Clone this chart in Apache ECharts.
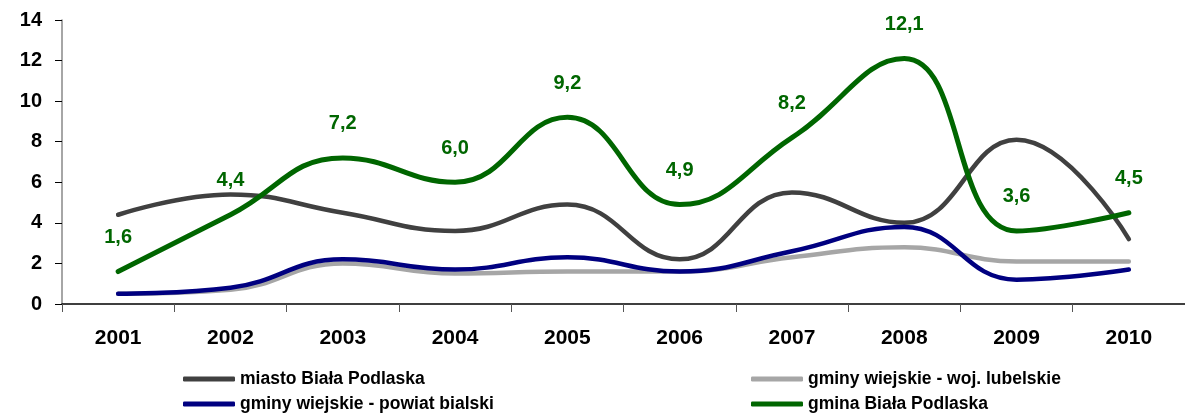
<!DOCTYPE html>
<html>
<head>
    <meta charset="utf-8">
    <title>Biała Podlaska</title>
    <script src="https://cdn.jsdelivr.net/npm/echarts@6/dist/echarts.min.js"></script>
</head>
<body style="margin:0;background:#fff">
    <div id="main" style="width:1185px;height:414px;"></div>
    <script>
        // dane
        var years = ['2001', '2002', '2003', '2004', '2005', '2006', '2007', '2008', '2009', '2010'];
        var miasto = [4.4, 5.4, 4.5, 3.6, 4.9, 2.2, 5.5, 4.0, 8.1, 3.2];
        var wojLubelskie = [0.5, 0.7, 2.0, 1.5, 1.6, 1.6, 2.3, 2.8, 2.1, 2.1];
        var powiatBialski = [0.5, 0.8, 2.2, 1.7, 2.3, 1.6, 2.6, 3.8, 1.2, 1.7];
        var gmina = [1.6, 4.4, 7.2, 6.0, 9.2, 4.9, 8.2, 12.1, 3.6, 4.5];
        var yTicks = [0, 2, 4, 6, 8, 10, 12, 14];

        var font = 'Liberation Sans';
        var myChart = echarts.init(document.getElementById('main'));

        function line(name, data, color) {
            return {
                name: name,
                type: 'line',
                smooth: 0.45,
                data: data,
                symbol: 'circle',
                symbolSize: 0,
                showSymbol: true,
                lineStyle: { color: color, width: 4.5, cap: 'round' },
                itemStyle: { color: color }
            };
        }

        var gminaSeries = line('gmina Biała Podlaska', gmina, '#006600');
        gminaSeries.lineStyle.width = 5;
        gminaSeries.label = {
            show: true,
            position: 'top',
            distance: 24,
            color: '#006600',
            fontFamily: font,
            fontWeight: 'bold',
            fontSize: 20,
            formatter: function (p) {
                return p.value.toFixed(1).replace('.', ',');
            }
        };

        var legendText = {
            fontFamily: font, fontWeight: 'bold', fontSize: 17.5, lineHeight: 18, color: '#000'
        };

        var option = {
            animation: false,
            grid: { left: 62, top: 20, bottom: 110, right: -16 },
            legend: [{
                left: 183, top: 370, height: 44, padding: 0, orient: 'vertical', itemGap: 7,
                itemWidth: 52, itemHeight: 5, icon: 'roundRect',
                textStyle: legendText,
                data: ['miasto Biała Podlaska', 'gminy wiejskie - powiat bialski']
            }, {
                left: 751, top: 370, height: 44, padding: 0, orient: 'vertical', itemGap: 7,
                itemWidth: 52, itemHeight: 5, icon: 'roundRect',
                textStyle: legendText,
                data: ['gminy wiejskie - woj. lubelskie', 'gmina Biała Podlaska']
            }],
            xAxis: {
                type: 'category',
                data: years,
                boundaryGap: true,
                axisLine: { lineStyle: { color: '#000', width: 1.5 } },
                axisTick: { show: true, length: 8, lineStyle: { color: '#555' } },
                axisLabel: { margin: 24, fontFamily: font, fontWeight: 'bold', fontSize: 21, color: '#000' }
            },
            yAxis: {
                type: 'value',
                min: yTicks[0],
                max: yTicks[yTicks.length - 1],
                interval: 2,
                splitLine: { show: false },
                axisLine: { show: true, lineStyle: { color: '#888', width: 1.5 } },
                axisTick: { show: true, inside: false, length: 7, lineStyle: { color: '#000' } },
                axisLabel: { margin: 20, fontFamily: font, fontWeight: 'bold', fontSize: 20, color: '#000' }
            },
            series: [
                line('gminy wiejskie - woj. lubelskie', wojLubelskie, '#A6A6A6'),
                line('miasto Biała Podlaska', miasto, '#404040'),
                line('gminy wiejskie - powiat bialski', powiatBialski, '#000080'),
                gminaSeries
            ]
        };

        myChart.setOption(option);
    </script>
</body>
</html>
